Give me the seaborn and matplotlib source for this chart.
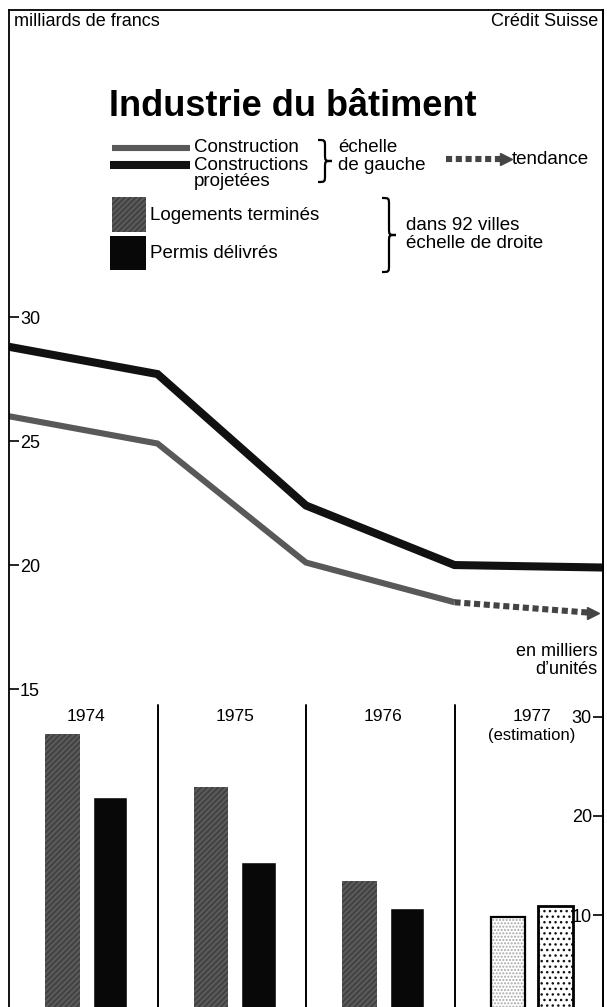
import numpy as np
import pandas as pd
import matplotlib
matplotlib.use('Agg')
import matplotlib.pyplot as plt
import seaborn as sns
from matplotlib.lines import Line2D
from matplotlib.patches import Rectangle, PathPatch
from matplotlib.path import Path
from matplotlib.transforms import blended_transform_factory

# ---------------------------------------------------------------
# data
# ---------------------------------------------------------------
years = ['1974', '1975', '1976', '1977']
year_labels = ['1974', '1975', '1976', '1977']

# lines, left scale (milliards de francs), one point per year boundary
line_x = [0, 1, 2, 3, 4]
construction = [26.0, 24.9, 20.1, 18.5]
projetees = [28.8, 27.7, 22.4, 20.0, 19.9]
trend_x = [3, 3.93]
trend_y = [18.5, 18.07]

# bars, right scale (milliers d'unités)
logements = [28.3, 22.9, 13.4, 9.8]
permis = [21.9, 15.4, 10.7, 10.9]

left_ticks = [15, 20, 25, 30]
right_ticks = [10, 20, 30]
sep_x = [1, 2, 3]

GREY = '#595959'
DARK = '#111111'

sns.set_style('white')
plt.rcParams['font.family'] = ['Liberation Sans', 'DejaVu Sans']
plt.rcParams['text.color'] = 'black'
plt.rcParams['hatch.linewidth'] = 1.0

W, H = 607, 1007
def fx(x):
    return x / W
def fy(y):
    return 1 - y / H

fig = plt.figure(figsize=(W / 100, H / 100), dpi=100)
fig.patch.set_facecolor('white')
rect = [9 / W, 0, 594 / W, 997 / H]

# ---------------------------------------------------------------
# line chart (left scale)
# ---------------------------------------------------------------
ax = fig.add_axes(rect)
sns.lineplot(x=line_x[:4], y=construction, ax=ax, color=GREY, lw=4.4,
             solid_joinstyle='miter', solid_capstyle='butt')
sns.lineplot(x=line_x, y=projetees, ax=ax, color=DARK, lw=5.8,
             solid_joinstyle='miter', solid_capstyle='butt')
ax.plot(trend_x, trend_y, color='#444444', lw=4.4, ls=(0, (1.0, 0.6)),
        dash_capstyle='butt')
ax.plot(trend_x[-1:], trend_y[-1:], marker='>', ms=8, color='#444444', ls='none')

ax.set_xlim(0, 4)
ax.set_ylim(2.18, 42.38)
ax.set_xticks([])
ax.set_yticks(left_ticks)
ax.tick_params(axis='y', left=True, direction='in', length=7, width=1.2, pad=-8,
               labelsize=13, colors='black')
for t in ax.get_yticklabels():
    t.set_ha('left')
for s in ['left', 'top', 'right']:
    ax.spines[s].set_visible(True)
    ax.spines[s].set_linewidth(1.3)
    ax.spines[s].set_color('black')
ax.spines['bottom'].set_visible(False)
for x in sep_x:
    ax.axvline(x, ymin=0, ymax=0.303, color='black', lw=1.4)

# ---------------------------------------------------------------
# bar chart (right scale)
# ---------------------------------------------------------------
axb = fig.add_axes(rect)
axb.patch.set_alpha(0)
bars = pd.DataFrame({
    'annee': years * 2,
    'valeur': logements + permis,
    'serie': ['Logements terminés'] * 4 + ['Permis délivrés'] * 4,
})
sns.barplot(data=bars, x='annee', y='valeur', hue='serie', ax=axb,
            palette={'Logements terminés': GREY, 'Permis délivrés': '#080808'},
            width=0.64, gap=0.28, saturation=1, legend=False)

for p in axb.patches:
    is_log = abs(p.get_facecolor()[0] - 0x59 / 255) < 0.05
    if p.get_x() > 2.5:
        # 1977 estimation: dotted bars with black outline
        if is_log:
            p.set_facecolor('white')
            p.set_edgecolor('#a8a8a8')
            p.set_hatch('.....')
        else:
            p.set_facecolor('white')
            p.set_edgecolor('#111111')
            p.set_hatch('...')
        p.set_linewidth(0)
        axb.add_patch(Rectangle((p.get_x(), p.get_y()), p.get_width(), p.get_height(),
                                fill=False, ec='black', lw=1.6 if is_log else 2.0))
    elif is_log:
        p.set_edgecolor('#3c3c3c')
        p.set_hatch('//////')
        p.set_linewidth(0)

axb.set_xlim(-0.52, 3.48)
axb.set_ylim(0.71, 101.4)
axb.set_xlabel('')
axb.set_ylabel('')
axb.set_xticks([])
axb.yaxis.tick_right()
axb.set_yticks(right_ticks)
axb.tick_params(axis='y', direction='in', length=7, width=1.2, pad=-8,
                labelsize=13, colors='black', right=True, left=False)
for t in axb.get_yticklabels():
    t.set_ha('right')
for s in ['left', 'top', 'bottom']:
    axb.spines[s].set_visible(False)
axb.spines['right'].set_visible(True)
axb.spines['right'].set_linewidth(1.3)
axb.spines['right'].set_color('black')

tr = blended_transform_factory(axb.transData, axb.transAxes)
for i, lab in enumerate(year_labels):
    axb.text(i, 0.2985, lab, transform=tr, ha='center', va='top', fontsize=12.5)
axb.text(3, 0.2795, '(estimation)', transform=tr, ha='center', va='top',
         fontsize=12)

# ---------------------------------------------------------------
# header, title and legend
# ---------------------------------------------------------------
fig.text(fx(14), fy(22), 'milliards de francs', fontsize=13, va='center')
fig.text(fx(598), fy(22), 'Crédit Suisse', fontsize=13, va='center', ha='right')
fig.text(fx(293), fy(116), 'Industrie du bâtiment', fontsize=26,
         fontweight='bold', ha='center', va='baseline')

fig.add_artist(Line2D([fx(112), fx(190)], [fy(148)] * 2, color=GREY, lw=4.4,
                      solid_capstyle='butt', transform=fig.transFigure))
fig.add_artist(Line2D([fx(110), fx(190)], [fy(165)] * 2, color=DARK, lw=5.8,
                      solid_capstyle='butt', transform=fig.transFigure))
fig.text(fx(194), fy(148), 'Construction', fontsize=13.5, va='center')
fig.text(fx(194), fy(166), 'Constructions', fontsize=13.5, va='center')
fig.text(fx(194), fy(182), 'projetées', fontsize=13.5, va='center')
fig.text(fx(338), fy(148), 'échelle', fontsize=13.5, va='center')
fig.text(fx(338), fy(166), 'de gauche', fontsize=13.5, va='center')

fig.add_artist(Line2D([fx(446), fx(502)], [fy(159)] * 2, color='#444444', lw=4.4,
                      ls=(0, (1.0, 0.6)), dash_capstyle='butt',
                      transform=fig.transFigure))
fig.add_artist(Line2D([fx(506)], [fy(159)], marker='>', ms=8, color='#444444',
                      ls='none', transform=fig.transFigure))
fig.text(fx(512), fy(159), 'tendance', fontsize=13.5, va='center')

fig.add_artist(Rectangle((fx(112), fy(232)), 34 / W, 35 / H, facecolor=GREY,
                         edgecolor='#3c3c3c', hatch='//////', lw=0,
                         transform=fig.transFigure))
fig.add_artist(Rectangle((fx(110), fy(270)), 36 / W, 34 / H, facecolor='#080808',
                         lw=0, transform=fig.transFigure))
fig.text(fx(150), fy(215), 'Logements terminés', fontsize=13.5, va='center')
fig.text(fx(150), fy(253), 'Permis délivrés', fontsize=13.5, va='center')
fig.text(fx(406), fy(226), 'dans 92 villes', fontsize=13.5, va='center')
fig.text(fx(406), fy(244), 'échelle de droite', fontsize=13.5, va='center')

fig.text(fx(597), fy(651), 'en milliers', fontsize=13, va='center', ha='right')
fig.text(fx(597), fy(670), 'd’unités', fontsize=13, va='center', ha='right')


def brace(x0, x1, yt, yb, lw=1.5):
    xs = (x0 + x1) / 2
    ym = (yt + yb) / 2
    r = (x1 - x0) / 2
    pts = [(x0, yt), (xs, yt), (xs, yt), (xs, yt + r),
           (xs, ym - r), (xs, ym), (xs, ym), (x1, ym),
           (xs, ym), (xs, ym), (xs, ym + r),
           (xs, yb - r), (xs, yb), (xs, yb), (x0, yb)]
    codes = [Path.MOVETO] + [Path.CURVE4] * 3 + [Path.LINETO] + [Path.CURVE4] * 6 \
        + [Path.LINETO] + [Path.CURVE4] * 3
    verts = [(fx(a), fy(b)) for a, b in pts]
    fig.add_artist(PathPatch(Path(verts, codes), fill=False, lw=lw, ec='black',
                             transform=fig.transFigure))


brace(318, 332, 140, 182, lw=1.6)
brace(382, 396, 198, 272, lw=1.6)

fig.savefig('out.png', dpi=100, facecolor='white')
